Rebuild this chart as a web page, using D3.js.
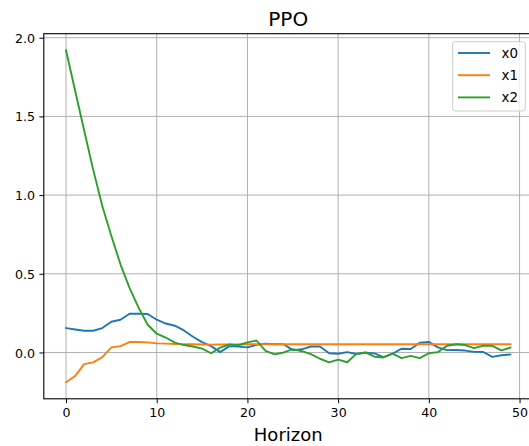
<!DOCTYPE html>
<html>
<head>
<meta charset="utf-8">
<script src="https://cdn.jsdelivr.net/npm/d3@7"></script>
<style>
  html, body { margin: 0; padding: 0; background: #fff; }
  svg { display: block; font-family: "DejaVu Sans", sans-serif; }
</style>
</head>
<body>
<svg id="chart" width="529" height="446"></svg>
<script>
// ---- data ----
const title = "PPO";
const xLabel = "Horizon";
const seriesNames = ["x0", "x1", "x2"];
const seriesColors = ["#1f77b4", "#ff7f0e", "#2ca02c"];
const horizon = d3.range(50);
const x0 = [0.155, 0.146, 0.138, 0.138, 0.155, 0.195, 0.208, 0.246, 0.246, 0.244,
            0.208, 0.184, 0.170, 0.140, 0.100, 0.066, 0.040, 0.002, 0.040, 0.037,
            0.032, 0.048, 0.056, 0.052, 0.052, 0.015, 0.020, 0.038, 0.038, -0.005,
            -0.008, 0.002, -0.010, -0.002, -0.006, -0.029, -0.008, 0.024, 0.022, 0.062,
            0.067, 0.032, 0.015, 0.016, 0.012, 0.004, 0.003, -0.028, -0.018, -0.013];
const x1 = [-0.189, -0.150, -0.074, -0.063, -0.030, 0.032, 0.040, 0.066, 0.066, 0.064,
            0.058, 0.056, 0.054, 0.053, 0.052, 0.051, 0.050, 0.051, 0.051, 0.051,
            0.052, 0.052, 0.052, 0.052, 0.052, 0.052, 0.052, 0.052, 0.052, 0.052,
            0.052, 0.052, 0.052, 0.052, 0.052, 0.052, 0.052, 0.052, 0.052, 0.052,
            0.052, 0.052, 0.052, 0.052, 0.052, 0.052, 0.052, 0.052, 0.052, 0.052];
const x2 = [1.920, 1.665, 1.410, 1.160, 0.930, 0.740, 0.560, 0.410, 0.285, 0.176,
            0.119, 0.095, 0.063, 0.047, 0.038, 0.024, -0.005, 0.031, 0.051, 0.046,
            0.064, 0.076, 0.010, -0.012, 0.000, 0.021, 0.008, -0.010, -0.040, -0.063,
            -0.046, -0.062, -0.009, 0.000, -0.027, -0.032, -0.008, -0.036, -0.022, -0.036,
            -0.005, 0.002, 0.043, 0.052, 0.047, 0.028, 0.043, 0.042, 0.013, 0.031];
const xTicks = [0, 10, 20, 30, 40, 50];
const yTicks = [0.0, 0.5, 1.0, 1.5, 2.0];

// ---- layout ----
const svg = d3.select("#chart");
const mLeft = 43.8, mRight = 532.7, mTop = 33.7, mBottom = 398.8;
const allVals = x0.concat(x1, x2);
const yMin = d3.min(allVals), yMax = d3.max(allVals);
const yPad = (yMax - yMin) * 0.05;
const xPad = (d3.max(horizon) - d3.min(horizon)) * 0.05;

const x = d3.scaleLinear().domain([d3.min(horizon) - xPad, d3.max(horizon) + xPad]).range([mLeft, mRight]);
const y = d3.scaleLinear().domain([yMin - yPad, yMax + yPad]).range([mBottom, mTop]);

// grid
const grid = svg.append("g");
grid.selectAll("line.gx").data(xTicks).join("line")
  .attr("x1", d => x(d)).attr("x2", d => x(d))
  .attr("y1", mTop).attr("y2", mBottom)
  .attr("stroke", "#b0b0b0").attr("stroke-width", 1);
grid.selectAll("line.gy").data(yTicks).join("line")
  .attr("x1", mLeft).attr("x2", mRight)
  .attr("y1", d => y(d)).attr("y2", d => y(d))
  .attr("stroke", "#b0b0b0").attr("stroke-width", 1);

// lines
const series = [x0, x1, x2];
const line = d3.line().x((d, i) => x(horizon[i])).y(d => y(d));
svg.append("g").selectAll("path").data(series).join("path")
  .attr("d", d => line(d))
  .attr("fill", "none")
  .attr("stroke", (d, i) => seriesColors[i])
  .attr("stroke-width", 1.9)
  .attr("stroke-linejoin", "round")
  .attr("stroke-linecap", "square");

// spines
svg.append("rect")
  .attr("x", mLeft).attr("y", mTop)
  .attr("width", mRight - mLeft).attr("height", mBottom - mTop)
  .attr("fill", "none").attr("stroke", "#000").attr("stroke-width", 1.1);

// axes
const xAxis = d3.axisBottom(x).tickValues(xTicks).tickFormat(d3.format("d"))
  .tickSize(4.4).tickPadding(4.4);
const gx = svg.append("g").attr("transform", `translate(0,${mBottom})`).call(xAxis);
gx.select(".domain").remove();
gx.selectAll("text").attr("font-size", 12.6).attr("fill", "#000")
  .attr("font-family", "DejaVu Sans").attr("dy", "0.73em");

const yAxis = d3.axisLeft(y).tickValues(yTicks).tickFormat(d3.format(".1f"))
  .tickSize(4.4).tickPadding(4.4);
const gy = svg.append("g").attr("transform", `translate(${mLeft},0)`).call(yAxis);
gy.select(".domain").remove();
gy.selectAll("text").attr("font-size", 12.6).attr("fill", "#000")
  .attr("font-family", "DejaVu Sans").attr("dy", "0.36em");

// title & label
svg.append("text").attr("x", (mLeft + mRight) / 2).attr("y", 26)
  .attr("text-anchor", "middle").attr("font-size", 20).attr("fill", "#000")
  .text(title);
svg.append("text").attr("x", (mLeft + mRight) / 2).attr("y", 440.7)
  .attr("text-anchor", "middle").attr("font-size", 18).attr("fill", "#000")
  .text(xLabel);

// legend
const lg = svg.append("g");
lg.append("rect")
  .attr("x", 452.7).attr("y", 41.7).attr("width", 72.6).attr("height", 69.3)
  .attr("rx", 2.5).attr("fill", "rgba(255,255,255,0.8)")
  .attr("stroke", "#cccccc").attr("stroke-width", 1);
const rows = lg.selectAll("g.row").data(seriesNames).join("g")
  .attr("transform", (d, i) => `translate(0,${53 + i * 22.2})`);
rows.append("line").attr("x1", 458).attr("x2", 490).attr("y1", 0).attr("y2", 0)
  .attr("stroke", (d, i) => seriesColors[i]).attr("stroke-width", 1.9);
rows.append("text").attr("x", 501.5).attr("y", 0).attr("dy", "0.36em")
  .attr("font-size", 13.4).attr("fill", "#000").text(d => d);
</script>
</body>
</html>
